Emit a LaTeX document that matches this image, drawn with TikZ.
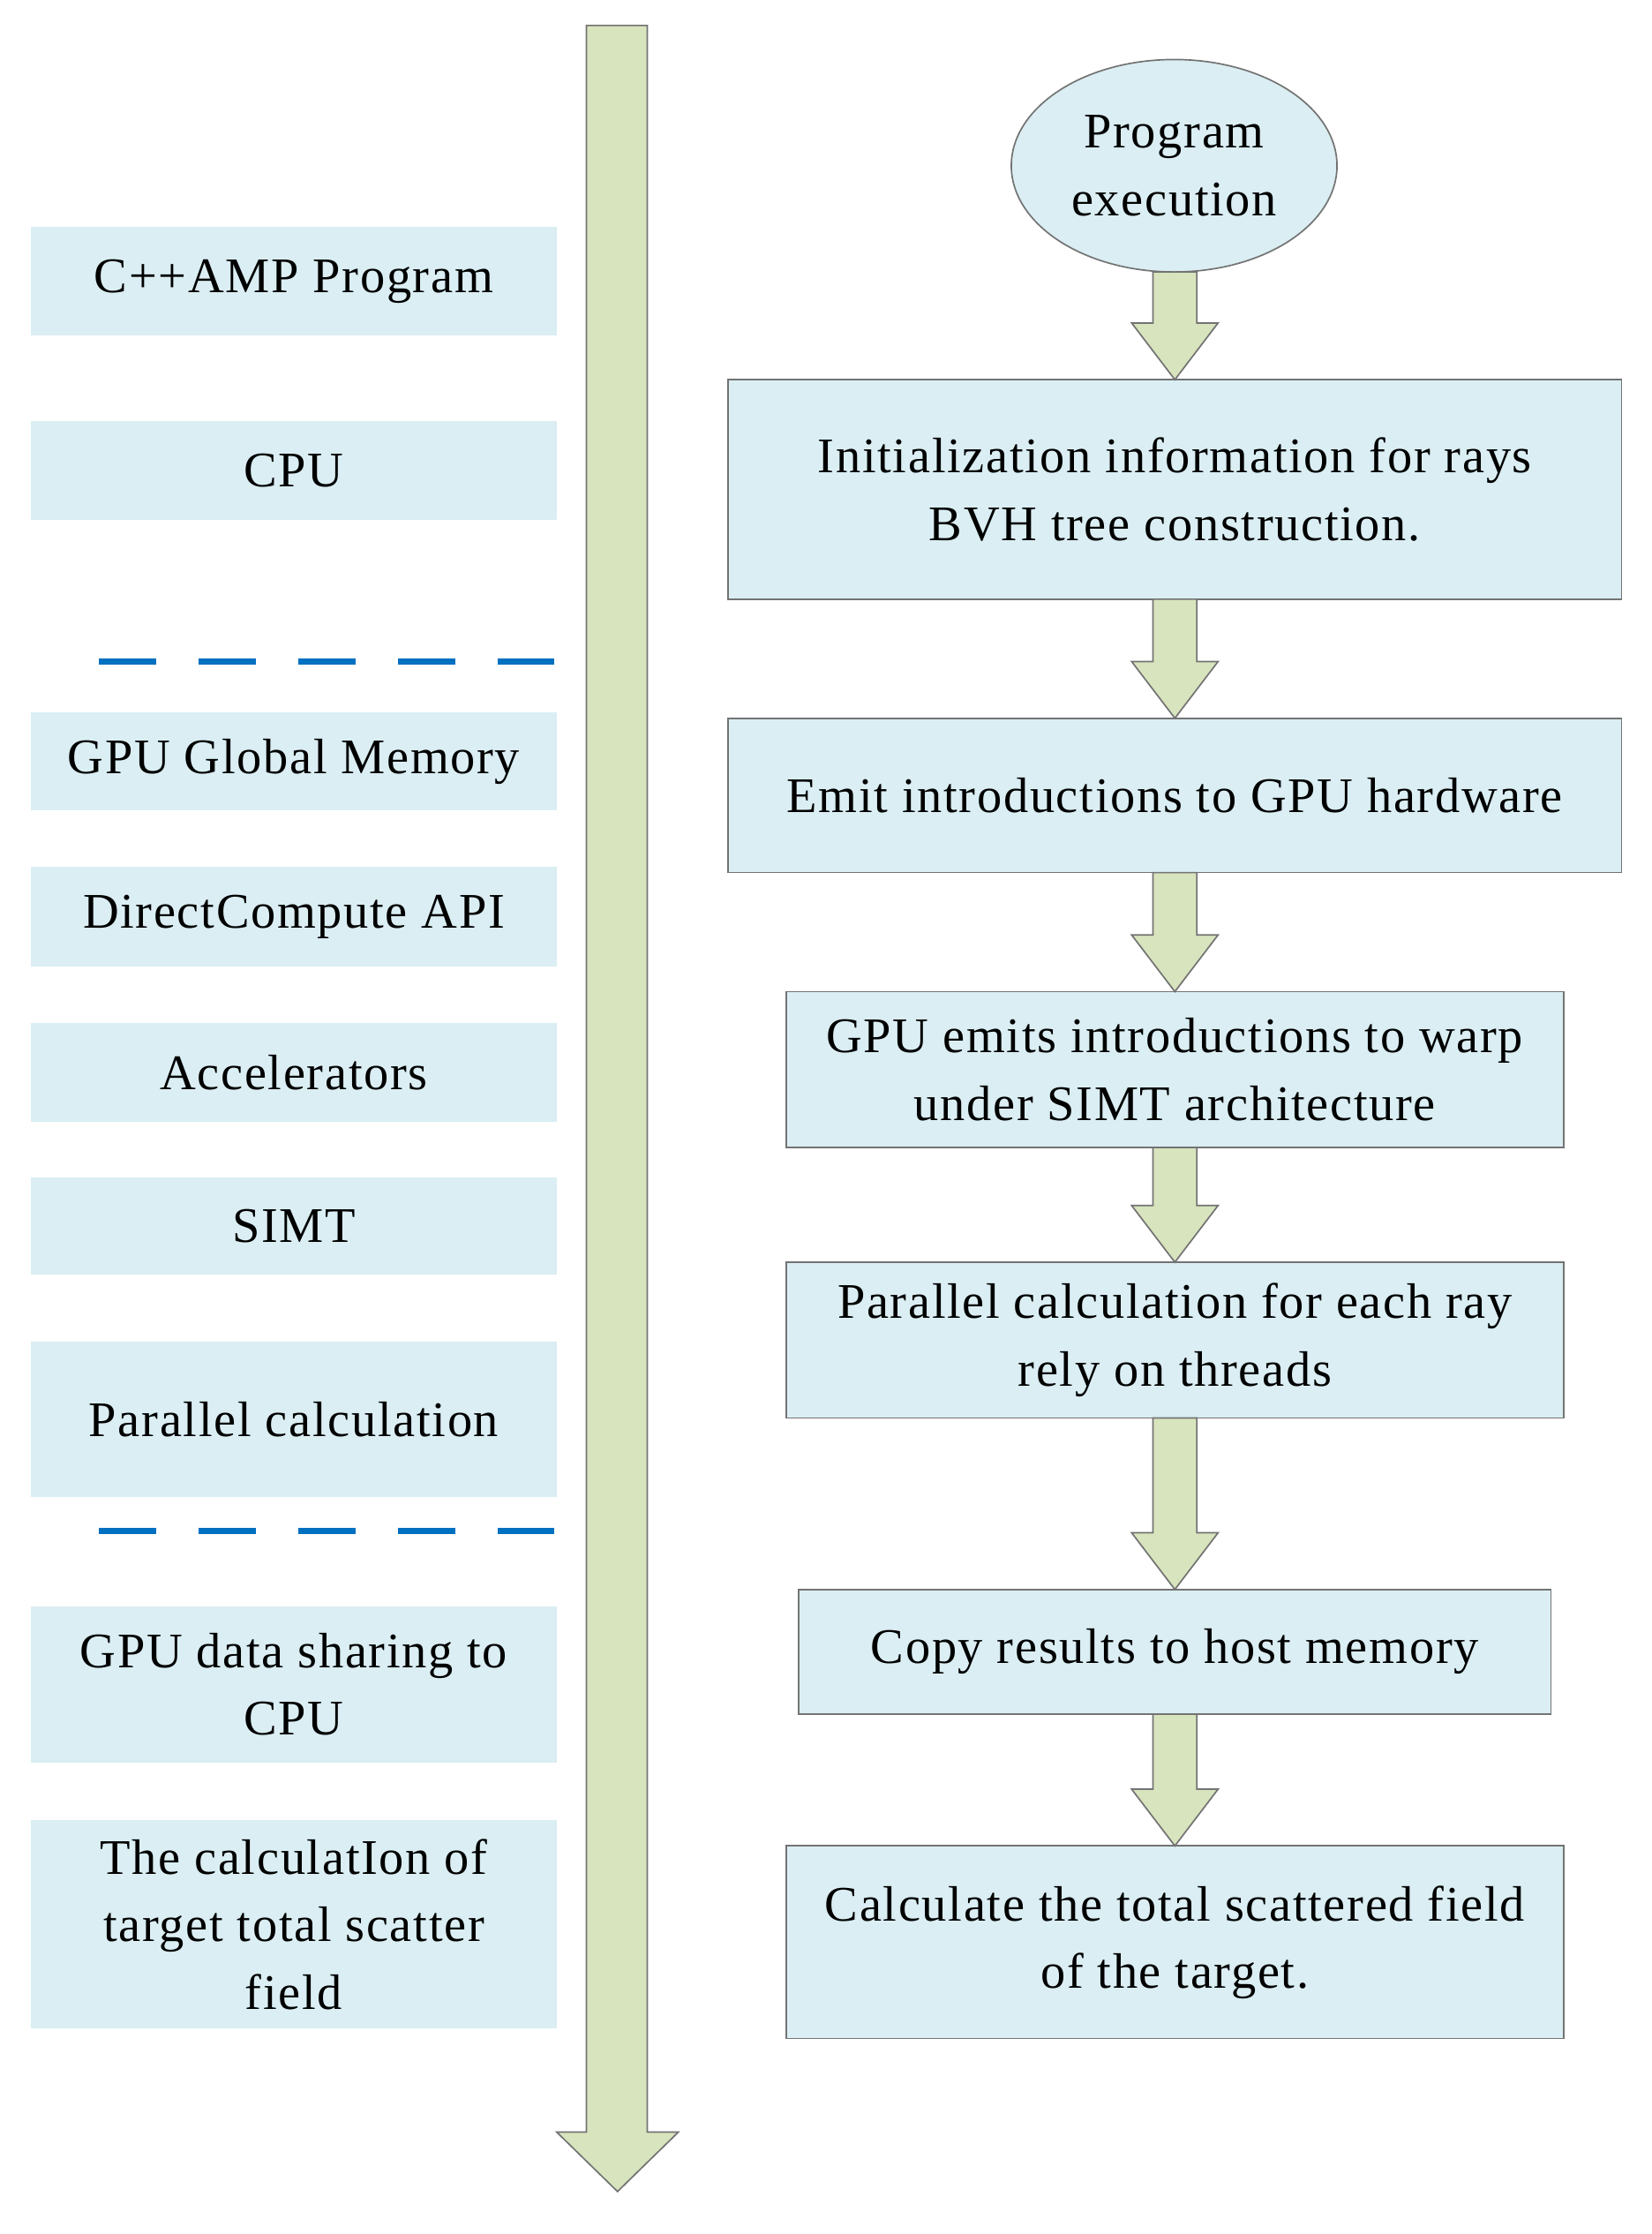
\documentclass[tikz,border=0pt]{standalone}
\usepackage{fontspec}
\setmainfont{Liberation Serif}[LetterSpace=3]
\usetikzlibrary{shapes.geometric}
\definecolor{boxc}{HTML}{DAEEF3}
\definecolor{arrc}{HTML}{D7E4BD}
\definecolor{dashc}{HTML}{0070C0}
\begin{document}
\begin{tikzpicture}[x=0.02cm,y=-0.02cm,
  lbox/.style={fill=boxc,draw=none,align=center,font=\fontsize{20}{27}\selectfont},
  rbox/.style={fill=boxc,draw=black!55,line width=0.6pt,align=center,font=\fontsize{20}{27}\selectfont},
  barr/.style={fill=arrc,draw=black!55,line width=0.6pt},
  dl/.style={dashc,line width=2.5pt,dash pattern=on 23pt off 17pt}]
\useasboundingbox (0,0) rectangle (1166,1577);
\newcommand{\ba}[2]{\path[barr] (814,#1) -- (845,#1) -- (845,#2-40) -- (860,#2-40) -- (829.5,#2) -- (799,#2-40) -- (814,#2-40) -- cycle;}
% left column
\node[lbox,minimum width=7.42cm,minimum height=1.54cm] (l1) at (207.5,198.5) {C++AMP Program};
\node[lbox,minimum width=7.42cm,minimum height=1.4cm] (l2) at (207.5,332) {CPU};
\node[lbox,minimum width=7.42cm,minimum height=1.38cm] (l3) at (207.5,537.5) {GPU Global Memory};
\node[lbox,minimum width=7.42cm,minimum height=1.4cm] (l4) at (207.5,647) {DirectCompute API};
\node[lbox,minimum width=7.42cm,minimum height=1.4cm] (l5) at (207.5,757) {Accelerators};
\node[lbox,minimum width=7.42cm,minimum height=1.38cm] (l6) at (207.5,865.5) {SIMT};
\node[lbox,minimum width=7.42cm,minimum height=2.2cm] (l7) at (207.5,1002) {Parallel calculation};
\node[lbox,minimum width=7.42cm,minimum height=2.2cm] (l8) at (207.5,1189) {GPU data sharing to\\CPU};
\node[lbox,minimum width=7.42cm,minimum height=2.94cm] (l9) at (207.5,1358.5) {The calculatIon of\\target total scatter\\field};
\coordinate (d1a) at (70,467); \coordinate (d1b) at (395,467);
\coordinate (d2a) at (70,1081); \coordinate (d2b) at (395,1081);
\draw[dl] (d1a) -- (d1b);
\draw[dl] (d2a) -- (d2b);
% big arrow
\path[barr] (414,18) -- (457,18) -- (457,1505) -- (479,1505) -- (436,1547) -- (393,1505) -- (414,1505) -- cycle;
% right column
\node[ellipse,fill=boxc,draw=black!55,line width=0.6pt,minimum width=4.6cm,minimum height=3cm,align=center,font=\fontsize{20}{27}\selectfont] (e) at (829,117) {Program\\execution};
\node[rbox,minimum width=12.62cm,minimum height=3.1cm] (r1) at (829.5,345.5) {Initialization information for rays\\BVH tree construction.};
\node[rbox,minimum width=12.62cm,minimum height=2.18cm] (r2) at (829.5,561.5) {Emit introductions to GPU hardware};
\node[rbox,minimum width=10.98cm,minimum height=2.2cm] (r3) at (829.5,755) {GPU emits introductions to warp\\under SIMT architecture};
\node[rbox,minimum width=10.98cm,minimum height=2.2cm] (r4) at (829.5,946) {Parallel calculation for each ray\\rely on threads};
\node[rbox,minimum width=10.62cm,minimum height=1.76cm] (r5) at (829.5,1166) {Copy results to host memory};
\node[rbox,minimum width=10.98cm,minimum height=2.72cm] (r6) at (829.5,1371) {Calculate the total scattered field\\of the target.};
\ba{192}{268}
\ba{423}{507}
\ba{616}{700}
\ba{810}{891}
\ba{1001}{1122}
\ba{1210}{1303}
\end{tikzpicture}
\end{document}
